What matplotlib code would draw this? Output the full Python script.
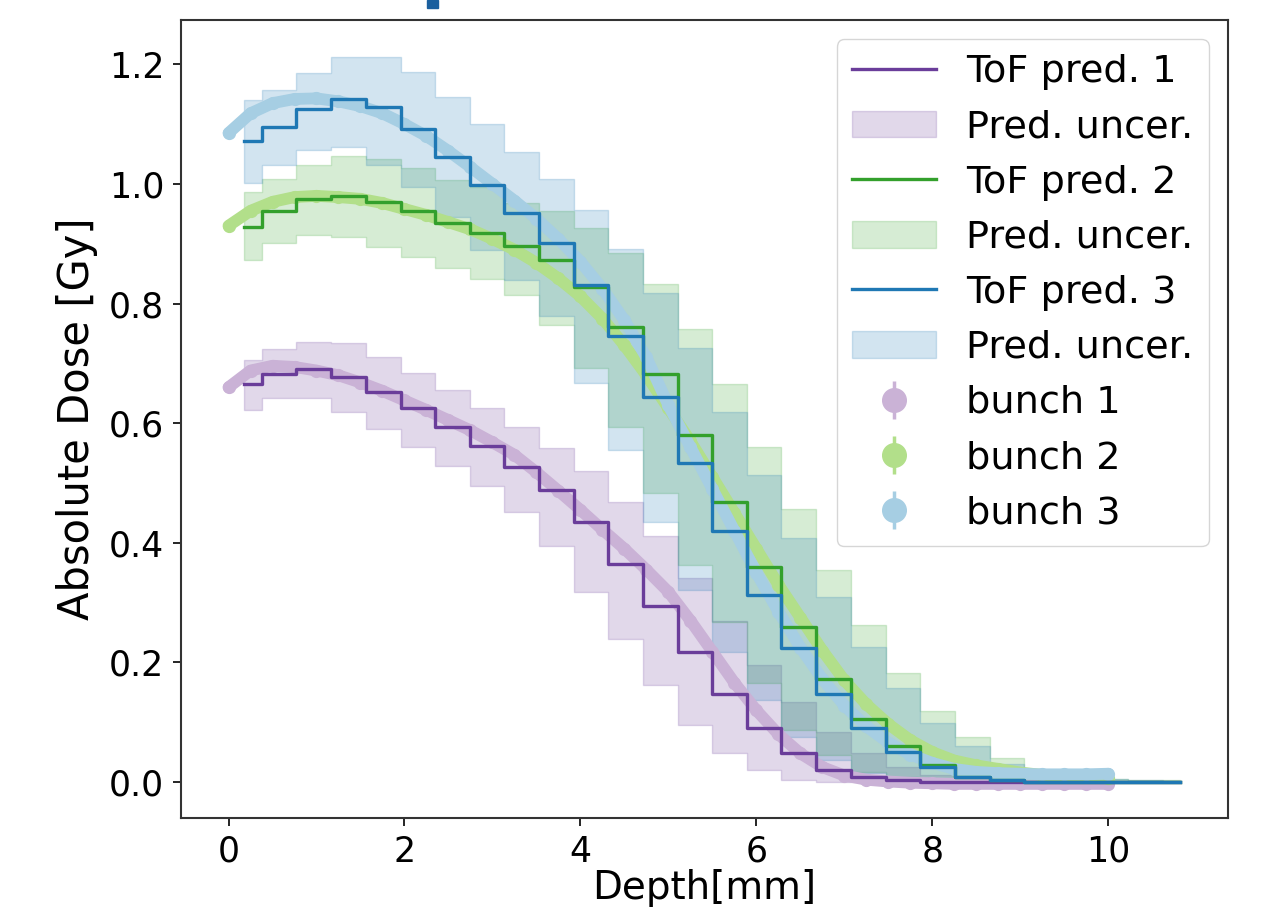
import numpy as np
import matplotlib
matplotlib.use('Agg')
import matplotlib.pyplot as plt
from matplotlib.patches import Rectangle

# ToF prediction bins (bin centres, mm)
depth_bins = [0.18, 0.57, 0.97, 1.36, 1.76, 2.15, 2.54, 2.94, 3.33, 3.73,
              4.12, 4.51, 4.91, 5.30, 5.70, 6.09, 6.48, 6.88, 7.27, 7.67,
              8.06, 8.45, 8.85, 9.24, 9.64, 10.03, 10.42, 10.82]

pred1 = [0.665, 0.682, 0.691, 0.678, 0.652, 0.625, 0.594, 0.562, 0.527, 0.488,
         0.434, 0.365, 0.295, 0.217, 0.147, 0.090, 0.049, 0.021, 0.008, 0.003,
         0.001, 0.0, 0.0, 0.0, 0.0, 0.0, 0.0, 0.0]
upper1 = [0.706, 0.724, 0.735, 0.734, 0.711, 0.684, 0.656, 0.625, 0.593, 0.559,
          0.520, 0.469, 0.411, 0.341, 0.270, 0.196, 0.134, 0.084, 0.048, 0.025,
          0.012, 0.005, 0.002, 0.001, 0.001, 0.0, 0.0, 0.0]
lower1 = [0.622, 0.642, 0.642, 0.618, 0.590, 0.561, 0.529, 0.495, 0.452, 0.394,
          0.318, 0.240, 0.162, 0.095, 0.048, 0.020, 0.003, 0.0, 0.0, 0.0,
          0.0, 0.0, 0.0, 0.0, 0.0, 0.0, 0.0, 0.0]

pred2 = [0.928, 0.954, 0.975, 0.980, 0.970, 0.954, 0.935, 0.918, 0.897, 0.873,
         0.828, 0.761, 0.683, 0.580, 0.469, 0.359, 0.259, 0.173, 0.106, 0.061,
         0.028, 0.008, 0.003, 0.001, 0.0, 0.0, 0.0, 0.0]
upper2 = [0.987, 1.009, 1.032, 1.046, 1.041, 1.026, 1.007, 0.995, 0.968, 0.955,
          0.926, 0.884, 0.833, 0.758, 0.666, 0.561, 0.457, 0.355, 0.263, 0.183,
          0.119, 0.075, 0.040, 0.020, 0.010, 0.006, 0.004, 0.003]
lower2 = [0.873, 0.901, 0.915, 0.912, 0.895, 0.877, 0.859, 0.841, 0.814, 0.764,
          0.692, 0.594, 0.483, 0.363, 0.268, 0.165, 0.087, 0.045, 0.017, 0.008,
          0.003, 0.0, 0.0, 0.0, 0.0, 0.0, 0.0, 0.0]

pred3 = [1.071, 1.095, 1.125, 1.142, 1.128, 1.092, 1.045, 0.998, 0.952, 0.901,
         0.831, 0.745, 0.644, 0.533, 0.419, 0.313, 0.224, 0.148, 0.090, 0.050,
         0.026, 0.009, 0.003, 0.001, 0.0, 0.0, 0.0, 0.0]
upper3 = [1.140, 1.157, 1.186, 1.212, 1.212, 1.187, 1.145, 1.100, 1.054, 1.008,
          0.957, 0.891, 0.817, 0.725, 0.619, 0.513, 0.408, 0.310, 0.226, 0.157,
          0.099, 0.060, 0.031, 0.015, 0.008, 0.005, 0.003, 0.002]
lower3 = [1.001, 1.032, 1.057, 1.061, 1.032, 0.995, 0.945, 0.890, 0.840, 0.780,
          0.668, 0.555, 0.435, 0.321, 0.218, 0.137, 0.076, 0.037, 0.015, 0.005,
          0.001, 0.0, 0.0, 0.0, 0.0, 0.0, 0.0, 0.0]

# measured bunch dose (mm)
depth_meas = np.arange(0, 10.01, 0.25)
bunch1 = [0.660, 0.688, 0.696, 0.694, 0.688, 0.680, 0.668, 0.654, 0.638, 0.622,
          0.605, 0.588, 0.568, 0.547, 0.518, 0.487, 0.455, 0.422, 0.390, 0.355,
          0.318, 0.270, 0.218, 0.166, 0.120, 0.080, 0.048, 0.025, 0.011, 0.004,
          0.001, -0.001, -0.002, -0.003, -0.003, -0.003, -0.003, -0.003, -0.003,
          -0.003, -0.003]
bunch2 = [0.930, 0.955, 0.970, 0.978, 0.980, 0.978, 0.975, 0.968, 0.958, 0.948,
          0.936, 0.924, 0.908, 0.890, 0.868, 0.842, 0.812, 0.775, 0.730, 0.680,
          0.625, 0.570, 0.510, 0.450, 0.390, 0.330, 0.275, 0.220, 0.170, 0.130,
          0.097, 0.070, 0.050, 0.036, 0.028, 0.022, 0.016, 0.012, 0.010, 0.008,
          0.007]
bunch3 = [1.085, 1.118, 1.135, 1.142, 1.143, 1.138, 1.130, 1.118, 1.100, 1.080,
          1.055, 1.028, 1.000, 0.972, 0.942, 0.908, 0.870, 0.825, 0.772, 0.710,
          0.630, 0.560, 0.490, 0.420, 0.350, 0.285, 0.225, 0.172, 0.128, 0.093,
          0.066, 0.046, 0.032, 0.022, 0.017, 0.015, 0.014, 0.013, 0.013, 0.013,
          0.014]
bunch_err = 0.004

dark = ['#6a3d9a', '#33a02c', '#1f78b4']
light = ['#cab2d6', '#b2df8a', '#a6cee3']

fig = plt.figure(figsize=(12.72, 9.10), dpi=100, facecolor='white')
ax = fig.add_axes([0.1423, 0.1011, 0.8231, 0.8769])

handles = []
for i, (p, lo, up) in enumerate([(pred1, lower1, upper1),
                                 (pred2, lower2, upper2),
                                 (pred3, lower3, upper3)]):
    line, = ax.step(depth_bins, p, where='mid', color=dark[i], lw=2.4,
                    zorder=4, label='ToF pred. %d' % (i + 1))
    band = ax.fill_between(depth_bins, lo, up, step='mid', color=dark[i],
                           alpha=0.2, lw=1, zorder=1, label='Pred. uncer.')
    handles += [line, band]

for i, b in enumerate([bunch1, bunch2, bunch3]):
    # dense measurement points look like a thick band
    ax.plot(depth_meas, b, color=light[i], lw=8.5, solid_capstyle='round',
            zorder=2 + 0.1 * i)
    eb = ax.errorbar(depth_meas, b, yerr=bunch_err, fmt='o', ms=8.5,
                     color=light[i], mec=light[i], elinewidth=2.5,
                     zorder=2 + 0.1 * i, label='bunch %d' % (i + 1))
    handles.append(eb)

ax.set_xlim(-0.54, 11.36)
ax.set_ylim(-0.06, 1.274)
ax.set_xticks([0, 2, 4, 6, 8, 10])
ax.set_yticks([0.0, 0.2, 0.4, 0.6, 0.8, 1.0, 1.2])
ax.tick_params(labelsize=25, length=6, width=1.2, pad=6)
for s in ax.spines.values():
    s.set_linewidth(1.5)
    s.set_color('#333333')

ax.set_xlabel('Depth[mm]', fontsize=28, labelpad=0)
ax.set_ylabel('Absolute Dose [Gy]', fontsize=30, labelpad=8)

ax.legend(handles=handles, loc='upper right', fontsize=27.5,
          handlelength=2.2, handletextpad=0.8, borderaxespad=0.5,
          markerscale=2.0)

# fragment of a blue mark above the frame
fig.add_artist(Rectangle((427 / 1272, 1 - 8 / 910), 11 / 1272, 8 / 910,
                         transform=fig.transFigure, color='#1a5f9e'))

fig.savefig('out.png', dpi=100)
